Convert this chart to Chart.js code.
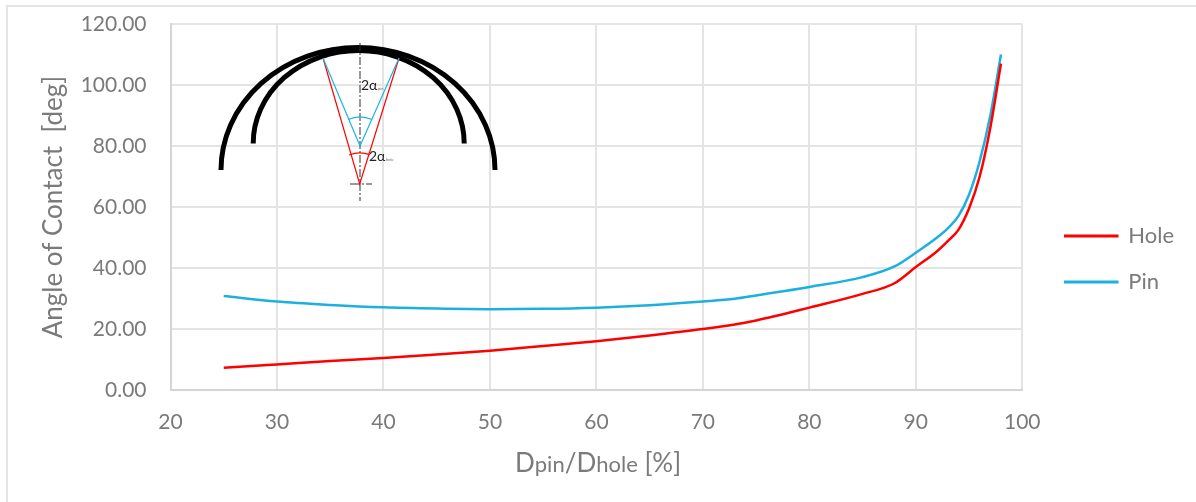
<!DOCTYPE html>
<html>
<head>
<meta charset="utf-8">
<style>
    html, body { margin: 0; padding: 0; background: #fff; }
    #wrap { position: relative; width: 1196px; height: 502px; overflow: hidden; }
    #wrap:before { content: ''; position: absolute; left: 6px; top: 5px; right: -4px; bottom: -4px; border: 2px solid #e4e4e4; }
    canvas { position: absolute; left: 0; top: 0; }
</style>
<script src="https://cdn.jsdelivr.net/npm/chart.js@4"></script>
</head>
<body>
<div id="wrap"><canvas id="chart" width="1196" height="502"></canvas></div>
<script>
const ratios = [25, 30, 35, 40, 45, 50, 55, 60, 65, 70, 73, 75, 80, 85, 88, 90, 92, 93, 94, 95, 96, 97, 98];
const holeAngles = [7.3, 8.4, 9.5, 10.5, 11.6, 12.9, 14.4, 16, 17.9, 20, 21.5, 22.8, 27, 31.5, 35, 40.3, 45.5, 48.8, 52.5, 59.5, 70, 86, 107];
const pinAngles = [30.8, 29, 27.9, 27.1, 26.7, 26.5, 26.6, 27, 27.8, 29, 29.9, 31, 33.8, 37, 40.5, 45, 50, 53, 57, 64, 75, 90, 110];

const textColor = '#7a7a7a';
const fontFamily = 'Lato, "Open Sans", sans-serif';

const toPoints = (values) => values.map((v, i) => ({ x: ratios[i], y: v }));

// x title has mixed sizes, so it is drawn by hand
const xTitlePlugin = {
    id: 'xTitle',
    afterDraw(chart) {
        const ctx = chart.ctx;
        const parts = [['D', 26], ['pin', 22], ['/D', 26], ['hole', 22], [' [%]', 26]];
        ctx.save();
        ctx.fillStyle = textColor;
        ctx.textBaseline = 'alphabetic';
        let x = 515;
        parts.forEach(([t, size]) => {
            ctx.font = size + 'px ' + fontFamily;
            ctx.fillText(t, x, 472);
            x += ctx.measureText(t).width;
        });
        ctx.restore();
    }
};

// legend sits further from the plot than its own padding allows
const legendShiftPlugin = {
    id: 'legendShift',
    afterLayout(chart) {
        chart.legend.left += 19;
        chart.legend.right += 19;
        chart.legend.top -= 4;
        chart.legend.bottom -= 4;
    }
};

// the little pin/hole sketch pasted over the plot
const sketchPlugin = {
    id: 'sketch',
    afterDatasetsDraw(chart) {
        const ctx = chart.ctx;
        ctx.save();
        ctx.lineCap = 'butt';

        ctx.strokeStyle = '#000';
        ctx.lineWidth = 5;
        ctx.beginPath();
        ctx.ellipse(358, 170, 137, 122.5, 0, Math.PI, 2 * Math.PI);
        ctx.stroke();
        ctx.beginPath();
        ctx.ellipse(358.7, 143.5, 105.5, 93, 0, Math.PI, 2 * Math.PI);
        ctx.stroke();

        ctx.lineWidth = 1;
        ctx.strokeStyle = '#333';
        ctx.setLineDash([8, 2, 2, 2]);
        ctx.beginPath();
        ctx.moveTo(360, 43);
        ctx.lineTo(360, 201);
        ctx.stroke();
        ctx.setLineDash([10, 2, 2, 2]);
        ctx.beginPath();
        ctx.moveTo(350, 184);
        ctx.lineTo(372, 184);
        ctx.stroke();
        ctx.setLineDash([]);

        ctx.lineWidth = 1.2;
        ctx.strokeStyle = '#ff0000';
        ctx.beginPath();
        ctx.moveTo(323, 58);
        ctx.lineTo(359.7, 184);
        ctx.lineTo(399, 58);
        ctx.stroke();
        ctx.beginPath();
        ctx.arc(360, 184, 31, -Math.PI / 2 - 0.36, -Math.PI / 2 + 0.32);
        ctx.stroke();

        ctx.strokeStyle = '#1cb4e4';
        ctx.beginPath();
        ctx.moveTo(323, 58);
        ctx.lineTo(360, 146);
        ctx.lineTo(399, 58);
        ctx.stroke();
        ctx.beginPath();
        ctx.arc(360, 146, 29, -Math.PI / 2 - 0.42, -Math.PI / 2 + 0.42);
        ctx.stroke();

        ctx.fillStyle = '#222';
        ctx.textBaseline = 'alphabetic';
        ctx.font = '14px ' + fontFamily;
        ctx.fillText('2α', 361, 90);
        ctx.fillText('2α', 369, 161);
        ctx.font = '4px ' + fontFamily;
        ctx.fillStyle = '#666';
        ctx.fillText('pin', 378, 90);
        ctx.fillText('hole', 386, 161);
        ctx.restore();
    }
};

new Chart(document.getElementById('chart').getContext('2d'), {
    type: 'scatter',
    data: {
        datasets: [
            {
                label: 'Hole',
                data: toPoints(holeAngles),
                showLine: true,
                borderColor: '#ff0000',
                backgroundColor: '#ff0000',
                borderWidth: 2.5,
                pointRadius: 0,
                cubicInterpolationMode: 'monotone'
            },
            {
                label: 'Pin',
                data: toPoints(pinAngles),
                showLine: true,
                borderColor: '#1cb0e0',
                backgroundColor: '#1cb0e0',
                borderWidth: 2.5,
                pointRadius: 0,
                cubicInterpolationMode: 'monotone'
            }
        ]
    },
    options: {
        responsive: false,
        animation: false,
        layout: { padding: { left: 0, top: 24, right: 31, bottom: 0 } },
        plugins: {
            tooltip: { enabled: false },
            legend: {
                position: 'right',
                align: 'center',
                labels: {
                    boxWidth: 52,
                    boxHeight: 0.5,
                    padding: 24,
                    color: textColor,
                    font: { family: fontFamily, size: 22 }
                }
            }
        },
        scales: {
            x: {
                type: 'linear',
                min: 20,
                max: 100,
                grid: { color: '#e4e4e4', lineWidth: 2, drawTicks: false },
                border: { color: '#d4d4d4', width: 2 },
                ticks: {
                    stepSize: 10,
                    padding: 20,
                    maxRotation: 0,
                    color: textColor,
                    font: { family: fontFamily, size: 21 }
                },
                afterFit(scale) { scale.height = 112; }
            },
            y: {
                min: 0,
                max: 120,
                grid: { color: '#e4e4e4', lineWidth: 2, drawTicks: false },
                border: { color: '#d4d4d4', width: 2 },
                ticks: {
                    stepSize: 20,
                    padding: 24,
                    color: textColor,
                    font: { family: fontFamily, size: 21 },
                    callback: (value) => value.toFixed(2)
                },
                title: {
                    display: true,
                    text: 'Angle of Contact  [deg]',
                    color: textColor,
                    font: { family: fontFamily, size: 26 },
                    padding: { top: 38, bottom: 0 }
                },
                afterFit(scale) {
                    // tick padding would otherwise push the plot top down
                    scale.width = 170.5;
                    scale.paddingTop = 0;
                    scale.paddingBottom = 0;
                }
            }
        }
    },
    plugins: [sketchPlugin, xTitlePlugin, legendShiftPlugin]
});
</script>
</body>
</html>
